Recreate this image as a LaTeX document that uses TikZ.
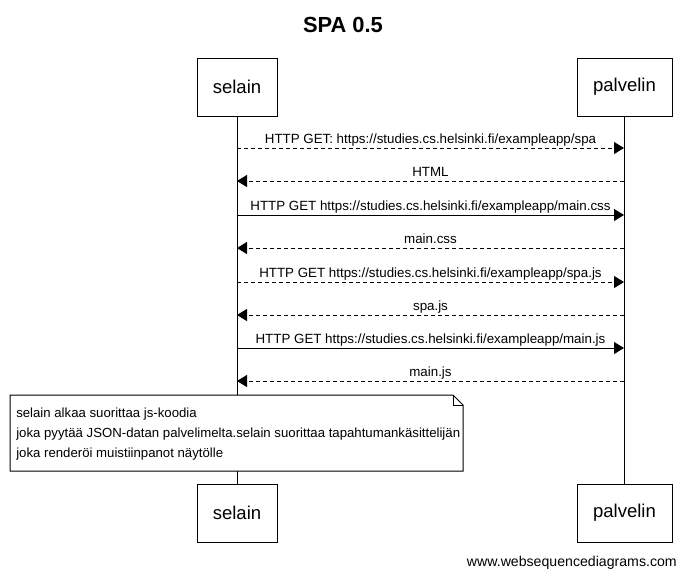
\documentclass[tikz,border=0pt]{standalone}
\usepackage{fontspec}
\setmainfont{Liberation Sans}
\usetikzlibrary{arrows.meta}
\begin{document}
\begin{tikzpicture}[x=0.75pt,y=-0.75pt,
  actor/.style={draw,line width=0.75pt,fill=white,minimum width=80*0.75pt,minimum height=58*0.75pt,inner sep=0pt,font=\fontsize{13.9}{16}\selectfont},
  actorw/.style={actor,minimum width=95*0.75pt},
  msg/.style={line width=0.75pt,-{Triangle[length=10*0.75pt,width=12*0.75pt]}},
  ret/.style={msg,dash pattern=on 4*0.75pt off 3*0.75pt},
  lbl/.style={font=\fontsize{10}{11}\selectfont,inner sep=0pt,anchor=base,yshift=4.5*0.75pt},
  life/.style={line width=0.75pt}]
\useasboundingbox (0,0) rectangle (686,576);
\fill[white] (0,0) rectangle (686,576);
\node[font=\bfseries\fontsize{16.4}{19}\selectfont] (title) at (343,25) {SPA 0.5};
\node[actor] (s1) at (237,87) {selain};
\node[actorw] (p1) at (624.5,87) {palvelin};
\node[actor] (s2) at (237,513) {selain};
\node[actorw] (p2) at (624.5,513) {palvelin};
\draw[life] (s1.south) -- (s2.north);
\draw[life] (p1.south) -- (p2.north);
% messages
\foreach \i/\y in {1/148,2/181,3/215,4/248,5/282,6/315,7/348,8/381}{
  \coordinate (sa\i) at (237,\y);
  \coordinate (pa\i) at (624,\y);
}
\draw[ret] (sa1) -- (pa1) node[lbl,midway] {HTTP GET: https://studies.cs.helsinki.fi/exampleapp/spa};
\draw[ret] (pa2) -- (sa2) node[lbl,midway] {HTML};
\draw[msg] (sa3) -- (pa3) node[lbl,midway] {HTTP GET https://studies.cs.helsinki.fi/exampleapp/main.css};
\draw[ret] (pa4) -- (sa4) node[lbl,midway] {main.css};
\draw[ret] (sa5) -- (pa5) node[lbl,midway] {HTTP GET https://studies.cs.helsinki.fi/exampleapp/spa.js};
\draw[ret] (pa6) -- (sa6) node[lbl,midway] {spa.js};
\draw[msg] (sa7) -- (pa7) node[lbl,midway] {HTTP GET https://studies.cs.helsinki.fi/exampleapp/main.js};
\draw[ret] (pa8) -- (sa8) node[lbl,midway] {main.js};
% note
\draw[line width=0.75pt,fill=white] (10,395) -- (453,395) -- (463,405) -- (463,471) -- (10,471) -- cycle;
\draw[line width=0.75pt] (453,395) -- (453,405) -- (463,405);
\node[anchor=north west,align=left,inner sep=0pt,font=\fontsize{9.9}{15}\selectfont] (note) at (16,408) {selain alkaa suorittaa js-koodia\\joka pyytää JSON-datan palvelimelta.selain suorittaa tapahtumankäsittelijän\\joka renderöi muistiinpanot näytölle};
\node[anchor=base east,inner sep=0pt,font=\fontsize{10.6}{12}\selectfont] (foot) at (677,566) {www.websequencediagrams.com};
\end{tikzpicture}
\end{document}
